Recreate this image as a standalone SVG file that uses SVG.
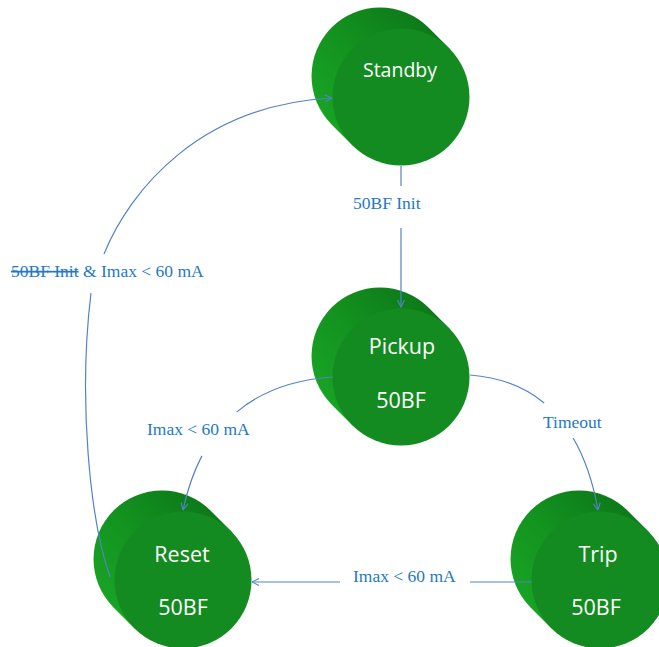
<svg xmlns="http://www.w3.org/2000/svg" xmlns:xlink="http://www.w3.org/1999/xlink" width="659" height="647" viewBox="0 0 659 647">
<style>
.face{fill:#138B20;}
.side{fill:url(#sideGrad);}
.nlabel{font-family:"Open Sans","Noto Sans",sans-serif;fill:#FFFFFF;text-anchor:middle;}
.elabel{font-family:"Liberation Serif","Times New Roman",serif;font-size:17.5px;fill:#2479C5;}
.conn{fill:none;stroke:#5283C4;stroke-width:1.2;}
.arrow{marker-end:url(#arr);}
</style>
<defs>
<linearGradient id="sideGrad" x1="0" y1="0.85" x2="0.85" y2="0">
<stop offset="0" stop-color="#19A726"/>
<stop offset="0.5" stop-color="#13921F"/>
<stop offset="1" stop-color="#0C7518"/>
</linearGradient>
<marker id="arr" viewBox="0 0 8 8" refX="7.5" refY="4" markerWidth="8" markerHeight="8" markerUnits="userSpaceOnUse" orient="auto">
<path d="M0.5,0.5 L7.5,4 L0.5,7.5" fill="none" stroke="#5283C4" stroke-width="1.1"/>
</marker>
<g id="cyl">
<path class="side" d="M48.44,-48.44 L27.44,-69.44 A68.5,68.5 0 0 0 -69.44,27.44 L-48.44,48.44 Z"/>
<circle class="face" cx="0" cy="0" r="68.5"/>
</g>
</defs>

<g id="node-standby">
<use xlink:href="#cyl" transform="translate(401,97)"/>
<text class="nlabel" x="400" y="77" font-size="19.5">Standby</text>
</g>
<g id="node-pickup">
<use xlink:href="#cyl" transform="translate(401,377)"/>
<text class="nlabel" x="402" y="354" font-size="21.5">Pickup</text>
<text class="nlabel" x="401" y="408" font-size="21.5">50BF</text>
</g>
<g id="node-reset">
<use xlink:href="#cyl" transform="translate(183,580)"/>
<text class="nlabel" x="182" y="562" font-size="21.5">Reset</text>
<text class="nlabel" x="183" y="615" font-size="21.5">50BF</text>
</g>
<g id="node-trip">
<use xlink:href="#cyl" transform="translate(600,580)"/>
<text class="nlabel" x="598" y="562" font-size="21.5">Trip</text>
<text class="nlabel" x="596" y="615" font-size="21.5">50BF</text>
</g>

<g id="connectors">
<path class="conn" d="M401,166 L401,186"/>
<path class="conn arrow" d="M401,228 L401,307"/>
<path class="conn" d="M333,377 Q273.6,380.9 236.6,412.1"/>
<path class="conn arrow" d="M201.9,455.9 Q189.6,479.5 183,510"/>
<path class="conn" d="M470,375 Q514.4,378.4 544.1,403"/>
<path class="conn arrow" d="M573.1,438 Q590.3,467.3 598,510"/>
<path class="conn" d="M532,582 L470,582"/>
<path class="conn arrow" d="M340,582 L252,582"/>
<path class="conn" d="M110,577 C90,520 78,400 91,293"/>
<path class="conn arrow" d="M104,254 C130,190 200,105 332,98"/>
</g>

<g id="labels">
<text class="elabel" x="353" y="209">50BF Init</text>
<text class="elabel" x="11" y="277"><tspan text-decoration="line-through">50BF Init</tspan> &amp; Imax &lt; 60 mA</text>
<text class="elabel" x="147" y="435">Imax &lt; 60 mA</text>
<text class="elabel" x="543" y="428">Timeout</text>
<text class="elabel" x="353" y="582">Imax &lt; 60 mA</text>
</g>
</svg>
